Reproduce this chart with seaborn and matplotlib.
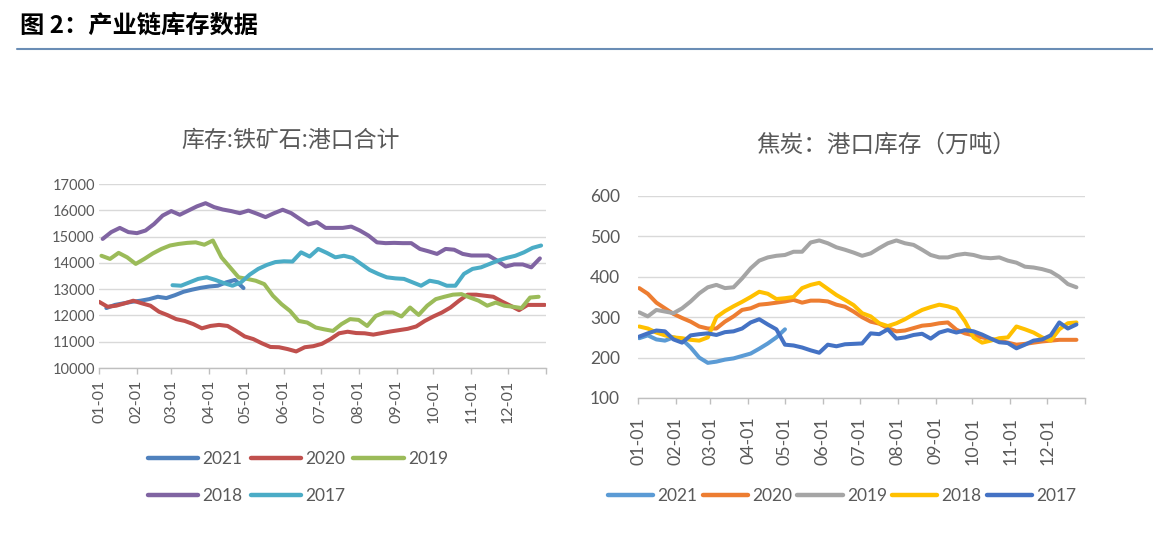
import numpy as np
import pandas as pd
import seaborn as sns
import matplotlib.pyplot as plt
from matplotlib.lines import Line2D

# ---- data (weekly) ----
YEARS = ['2021', '2020', '2019', '2018', '2017']
MONTHS = ['01-01', '02-01', '03-01', '04-01', '05-01', '06-01',
          '07-01', '08-01', '09-01', '10-01', '11-01', '12-01']

# 库存:铁矿石:港口合计
ORE_START = ['01-07', '01-01', '01-03', '01-04', '03-02']
ORE_2021 = [12280, 12400, 12460, 12520, 12560, 12620, 12710, 12660, 12770, 12900,
            12980, 13050, 13100, 13130, 13260, 13350, 13040]
ORE_2020 = [12520, 12330, 12370, 12460, 12560, 12460, 12370, 12140, 12010, 11860,
            11790, 11670, 11510, 11600, 11640, 11600, 11410, 11200, 11100, 10940,
            10800, 10790, 10720, 10630, 10790, 10830, 10920, 11100, 11320, 11380,
            11330, 11320, 11270, 11330, 11390, 11440, 11490, 11580, 11790, 11960,
            12110, 12300, 12560, 12790, 12790, 12750, 12710, 12530, 12370, 12200,
            12400, 12400, 12400]
ORE_2019 = [14270, 14150, 14380, 14210, 13960, 14150, 14360, 14530, 14660, 14720,
            14760, 14780, 14690, 14850, 14210, 13830, 13450, 13390, 13320, 13190,
            12750, 12430, 12170, 11790, 11730, 11540, 11470, 11410, 11670, 11860,
            11830, 11600, 11980, 12110, 12110, 11960, 12300, 12020, 12370, 12620,
            12710, 12790, 12810, 12680, 12560, 12370, 12490, 12370, 12330, 12280,
            12680, 12710]
ORE_2018 = [14910, 15170, 15330, 15170, 15130, 15230, 15480, 15800, 15970, 15830,
            15990, 16150, 16270, 16120, 16030, 15970, 15890, 15990, 15870, 15740,
            15890, 16020, 15890, 15670, 15460, 15550, 15330, 15330, 15330, 15380,
            15230, 15040, 14780, 14750, 14760, 14750, 14750, 14530, 14440, 14340,
            14530, 14500, 14340, 14280, 14280, 14280, 14090, 13860, 13940, 13940,
            13830, 14170]
ORE_2017 = [13150, 13130, 13260, 13390, 13450, 13350, 13230, 13130, 13260, 13550,
            13770, 13920, 14030, 14060, 14050, 14400, 14240, 14530, 14380, 14210,
            14270, 14190, 13960, 13730, 13580, 13450, 13410, 13390, 13260, 13130,
            13320, 13260, 13130, 13130, 13580, 13770, 13830, 13960, 14090, 14190,
            14270, 14400, 14570, 14660]

# 焦炭：港口库存（万吨）
COKE_START = ['01-02', '01-02', '01-02', '01-02', '01-02']
COKE_2021 = [248, 255, 245, 242, 250, 245, 225, 200, 187, 190, 195, 198, 204, 210,
             222, 235, 250, 270]
COKE_2020 = [372, 358, 336, 322, 308, 298, 289, 277, 272, 272, 289, 302, 318, 322,
             331, 333, 336, 339, 343, 336, 341, 341, 339, 331, 326, 314, 300, 289,
             284, 273, 265, 267, 273, 279, 281, 285, 287, 269, 260, 255, 250, 246,
             242, 237, 232, 234, 237, 240, 242, 244, 244, 244]
COKE_2019 = [312, 302, 318, 314, 310, 322, 339, 359, 374, 380, 372, 374, 396, 421,
             440, 448, 452, 454, 462, 462, 485, 490, 483, 473, 467, 460, 452, 458,
             471, 483, 490, 483, 479, 467, 454, 448, 448, 454, 457, 454, 448, 446,
             448, 440, 435, 425, 423, 419, 413, 400, 382, 374]
COKE_2018 = [277, 272, 262, 255, 250, 248, 244, 242, 250, 300, 315, 327, 338, 350,
             363, 358, 345, 347, 350, 372, 380, 385, 370, 355, 343, 330, 310, 302,
             285, 278, 285, 295, 307, 318, 325, 331, 327, 320, 290, 250, 237, 242,
             248, 250, 277, 270, 262, 250, 242, 270, 285, 287]
COKE_2017 = [252, 260, 267, 265, 245, 237, 255, 258, 260, 256, 263, 265, 272, 287,
             295, 282, 270, 232, 230, 225, 218, 212, 232, 228, 233, 234, 235, 260,
             258, 270, 247, 250, 256, 259, 247, 262, 268, 262, 268, 265, 257, 247,
             238, 236, 223, 232, 242, 245, 255, 287, 272, 282]

ORE_COLORS = ['#4F81BD', '#C0504D', '#9BBB59', '#8064A2', '#4BACC6']
COKE_COLORS = ['#5B9BD5', '#ED7D31', '#A5A5A5', '#FFC000', '#4472C4']

GRAY_TXT = '#595959'


def doy(mmdd):
    return pd.Timestamp('2021-' + mmdd).dayofyear - 1


def long_df(starts, series):
    rows = []
    for yr, st, vals in zip(YEARS, starts, series):
        d0 = doy(st)
        for i, v in enumerate(vals):
            rows.append((yr, d0 + 7 * i, v))
    return pd.DataFrame(rows, columns=['year', 'day', 'value'])


ore = long_df(ORE_START, [ORE_2021, ORE_2020, ORE_2019, ORE_2018, ORE_2017])
coke = long_df(COKE_START, [COKE_2021, COKE_2020, COKE_2019, COKE_2018, COKE_2017])

sns.set_theme(style='white')
plt.rcParams['font.family'] = ['Lato', 'Noto Sans CJK SC', 'DejaVu Sans']

W, H = 1153, 545
fig = plt.figure(figsize=(W / 100, H / 100), dpi=100)


def fx(px):
    return px / W


def fy(py):
    return 1 - py / H


tick_days = [doy(m) for m in MONTHS] + [365]
tick_labels = MONTHS + ['']


def style_axis(ax, ymin, ymax, ystep, xfs, yfs, ypad, xpad):
    ax.set_xlim(0, 365)
    ax.set_ylim(ymin, ymax)
    ax.set_yticks(np.arange(ymin, ymax + 1, ystep))
    ax.set_xticks(tick_days)
    ax.set_xticklabels(tick_labels, rotation=90)
    ax.grid(axis='y', color='#D9D9D9', lw=1)
    ax.grid(axis='x', visible=False)
    for s in ['top', 'right', 'left']:
        ax.spines[s].set_visible(False)
    ax.spines['bottom'].set_color('#BFBFBF')
    ax.spines['bottom'].set_linewidth(1)
    ax.tick_params(axis='y', length=0, pad=ypad, labelsize=yfs, labelcolor=GRAY_TXT)
    ax.tick_params(axis='x', length=4.5, width=1, color='#BFBFBF', pad=xpad,
                   labelsize=xfs, labelcolor=GRAY_TXT, bottom=True)
    ax.set_xlabel('')
    ax.set_ylabel('')
    ax.set_facecolor('white')


def make_legend(ax, colors, order, ncol, anchor, hl, cs):
    handles = [Line2D([0], [0], color=colors[YEARS.index(y)], lw=3.2,
                      solid_capstyle='round') for y in order]
    ax.legend(handles, order, ncol=ncol, loc='upper left', bbox_to_anchor=anchor,
              bbox_transform=fig.transFigure, frameon=False, fontsize=12.5,
              handlelength=hl, handletextpad=0.25, columnspacing=cs,
              labelspacing=1.2, borderpad=0, borderaxespad=0, labelcolor=GRAY_TXT)


# ---- left: iron ore ----
ax1 = fig.add_axes([fx(99), fy(368), fx(447), fy(184) - fy(368)])
sns.lineplot(data=ore, x='day', y='value', hue='year', hue_order=YEARS,
             palette=dict(zip(YEARS, ORE_COLORS)), lw=2.9, ax=ax1, legend=False,
             solid_capstyle='round', solid_joinstyle='round')
style_axis(ax1, 10000, 17000, 1000, xfs=11.5, yfs=10.5, ypad=3, xpad=4)
make_legend(ax1, ORE_COLORS, ['2021', '2018', '2020', '2017', '2019'], 3,
            (fx(148), fy(451)), 2.9, 0.45)
fig.text(fx(291), fy(140), '库存:铁矿石:港口合计', ha='center', va='center',
         fontsize=16.5, color=GRAY_TXT, family=['Noto Sans CJK SC'])

# ---- right: coke ----
ax2 = fig.add_axes([fx(638), fy(398), fx(447), fy(196) - fy(398)])
sns.lineplot(data=coke, x='day', y='value', hue='year', hue_order=YEARS,
             palette=dict(zip(YEARS, COKE_COLORS)), lw=2.9, ax=ax2, legend=False,
             solid_capstyle='round', solid_joinstyle='round')
style_axis(ax2, 100, 600, 100, xfs=12.8, yfs=12.5, ypad=13, xpad=9)
make_legend(ax2, COKE_COLORS, YEARS, 5, (fx(608), fy(488)), 2.6, 0.3)
fig.text(fx(886), fy(145), '焦炭：港口库存（万吨）', ha='center', va='center',
         fontsize=17, color=GRAY_TXT, family=['Noto Sans CJK SC'])

# ---- header ----
fig.text(fx(20), fy(26), '图 2：产业链库存数据', ha='left', va='center',
         fontsize=17.5, weight='bold', color='black', family=['Noto Sans CJK SC'])
fig.add_artist(Line2D([fx(17), fx(1153)], [fy(49), fy(49)], color='#6A8DB5', lw=1.5,
                      transform=fig.transFigure))

fig.savefig('out.png', dpi=100, facecolor='white')
